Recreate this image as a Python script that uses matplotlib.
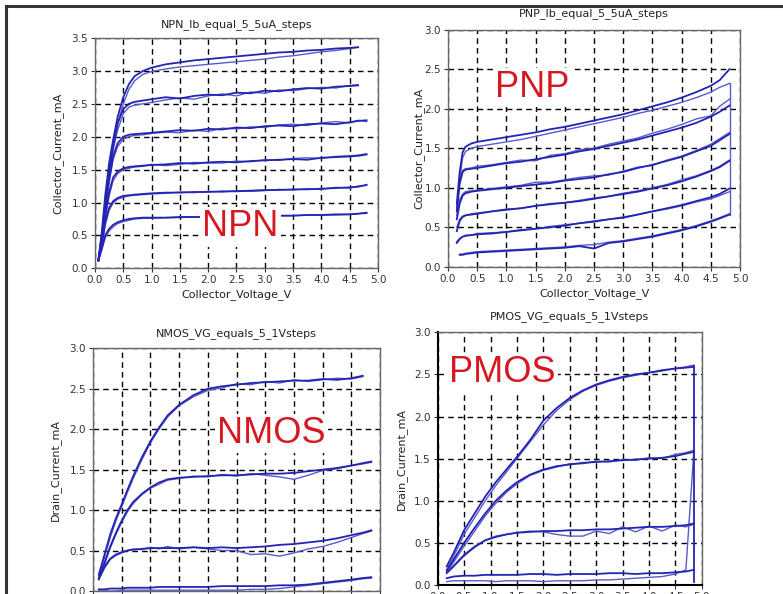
import numpy as np
import matplotlib.pyplot as plt
from matplotlib.patches import Rectangle
from matplotlib.lines import Line2D
from matplotlib import font_manager

nan = np.nan

# ---- NPN: Ib = 5..5uA steps ----
npn_v = [0.06, 0.12, 0.18, 0.25, 0.32, 0.4, 0.5, 0.6, 0.7, 0.85, 1.0, 1.25, 1.5, 1.75,
         2.0, 2.25, 2.5, 2.75, 3.0, 3.25, 3.5, 3.75, 4.0, 4.25, 4.5, 4.65, 4.8]
npn_fwd = [
    [0.12, 0.55, 1.1, 1.6, 1.95, 2.3, 2.6, 2.8, 2.92, 3.0, 3.05, 3.1, 3.13, 3.16,
     3.18, 3.2, 3.22, 3.24, 3.26, 3.28, 3.29, 3.31, 3.32, 3.34, 3.35, 3.36, nan],
    [0.12, 0.5, 0.95, 1.45, 1.85, 2.2, 2.42, 2.5, 2.53, 2.55, 2.57, 2.6, 2.58, 2.62,
     2.64, 2.63, 2.67, 2.66, 2.7, 2.69, 2.72, 2.74, 2.73, 2.76, 2.77, 2.78, nan],
    [0.12, 0.45, 0.9, 1.35, 1.7, 1.9, 2.0, 2.03, 2.04, 2.05, 2.06, 2.08, 2.1, 2.09,
     2.12, 2.11, 2.14, 2.13, 2.16, 2.17, 2.16, 2.19, 2.2, 2.19, 2.22, 2.24, 2.25],
    [0.12, 0.4, 0.8, 1.15, 1.38, 1.47, 1.52, 1.54, 1.55, 1.56, 1.57, 1.58, 1.6, 1.59,
     1.61, 1.62, 1.61, 1.63, 1.64, 1.65, 1.66, 1.65, 1.68, 1.69, 1.7, 1.71, 1.73],
    [0.12, 0.35, 0.7, 0.92, 1.02, 1.07, 1.1, 1.11, 1.12, 1.13, 1.14, 1.15, 1.15, 1.16,
     1.16, 1.17, 1.17, 1.18, 1.19, 1.19, 1.2, 1.2, 1.21, 1.22, 1.23, 1.24, 1.27],
    [0.12, 0.3, 0.5, 0.6, 0.66, 0.7, 0.73, 0.75, 0.76, 0.77, 0.77, 0.77, 0.78, 0.78,
     0.78, 0.78, 0.79, 0.79, 0.8, 0.8, 0.8, 0.81, 0.81, 0.82, 0.82, 0.83, 0.84],
]
npn_rev = [
    [0.12, 0.5, 1.0, 1.5, 1.9, 2.2, 2.5, 2.72, 2.85, 2.95, 2.99, 3.03, 3.06, 3.08,
     3.1, 3.12, 3.14, 3.16, 3.18, 3.21, 3.23, 3.26, 3.29, 3.31, 3.34, 3.36, nan],
    [0.12, 0.45, 0.9, 1.4, 1.8, 2.1, 2.35, 2.45, 2.48, 2.5, 2.52, 2.56, 2.59, 2.57,
     2.62, 2.65, 2.62, 2.68, 2.66, 2.71, 2.7, 2.73, 2.75, 2.74, 2.78, 2.79, nan],
    [0.12, 0.42, 0.85, 1.3, 1.65, 1.85, 1.96, 2.0, 2.02, 2.03, 2.05, 2.07, 2.06, 2.1,
     2.08, 2.13, 2.12, 2.15, 2.14, 2.18, 2.19, 2.17, 2.21, 2.23, 2.21, 2.25, 2.23],
    [0.12, 0.38, 0.75, 1.1, 1.33, 1.44, 1.5, 1.52, 1.54, 1.55, 1.58, 1.56, 1.58, 1.61,
     1.6, 1.6, 1.63, 1.62, 1.65, 1.64, 1.67, 1.68, 1.67, 1.7, 1.71, 1.72, 1.74],
    [0.12, 0.33, 0.65, 0.88, 0.99, 1.05, 1.08, 1.1, 1.11, 1.12, 1.13, 1.14, 1.16, 1.15,
     1.17, 1.16, 1.18, 1.17, 1.18, 1.2, 1.19, 1.21, 1.2, 1.23, 1.22, 1.25, 1.26],
    [0.12, 0.28, 0.46, 0.57, 0.63, 0.68, 0.71, 0.73, 0.75, 0.76, 0.76, 0.77, 0.77, 0.78,
     0.78, 0.78, 0.79, 0.79, 0.79, 0.8, 0.8, 0.81, 0.81, 0.81, 0.82, 0.83, 0.85],
]

# ---- PNP ----
pnp_v = [0.15, 0.2, 0.25, 0.3, 0.4, 0.5, 0.75, 1.0, 1.25, 1.5, 1.75, 2.0, 2.25, 2.5,
         2.75, 3.0, 3.25, 3.5, 3.75, 4.0, 4.25, 4.5, 4.65, 4.82]
pnp_fwd = [
    [nan, 0.15, 0.15, 0.16, 0.17, 0.18, 0.19, 0.2, 0.21, 0.22, 0.23, 0.24, 0.26, 0.23,
     0.3, 0.32, 0.35, 0.38, 0.42, 0.46, 0.51, 0.57, 0.61, 0.66],
    [0.3, 0.35, 0.38, 0.39, 0.4, 0.41, 0.42, 0.44, 0.46, 0.48, 0.5, 0.52, 0.55, 0.57,
     0.6, 0.62, 0.66, 0.7, 0.74, 0.78, 0.83, 0.88, 0.92, 0.99],
    [0.45, 0.58, 0.63, 0.65, 0.66, 0.67, 0.7, 0.72, 0.74, 0.77, 0.79, 0.81, 0.83, 0.86,
     0.89, 0.92, 0.95, 0.99, 1.03, 1.08, 1.14, 1.21, 1.26, 1.34],
    [0.6, 0.8, 0.9, 0.93, 0.95, 0.96, 0.98, 1.0, 1.02, 1.04, 1.06, 1.09, 1.11, 1.13,
     1.17, 1.2, 1.25, 1.29, 1.34, 1.39, 1.46, 1.53, 1.6, 1.68],
    [0.7, 1.05, 1.2, 1.23, 1.24, 1.25, 1.28, 1.31, 1.33, 1.36, 1.39, 1.42, 1.46, 1.49,
     1.53, 1.57, 1.61, 1.66, 1.71, 1.76, 1.82, 1.9, 1.96, 2.04],
    [0.8, 1.2, 1.45, 1.52, 1.56, 1.58, 1.61, 1.64, 1.67, 1.7, 1.74, 1.77, 1.81, 1.85,
     1.89, 1.93, 1.98, 2.03, 2.08, 2.14, 2.21, 2.29, 2.36, 2.5],
]
pnp_rev = [
    [nan, 0.16, 0.16, 0.17, 0.18, 0.19, 0.2, 0.21, 0.22, 0.23, 0.24, 0.25, 0.27, 0.28,
     0.31, 0.33, 0.36, 0.39, 0.43, 0.47, 0.52, 0.58, 0.62, 0.67],
    [0.32, 0.36, 0.38, 0.4, 0.4, 0.42, 0.43, 0.44, 0.47, 0.48, 0.51, 0.53, 0.55, 0.58,
     0.6, 0.63, 0.66, 0.7, 0.73, 0.77, 0.82, 0.86, 0.9, 0.95],
    [0.5, 0.6, 0.64, 0.65, 0.67, 0.68, 0.7, 0.73, 0.74, 0.77, 0.8, 0.81, 0.84, 0.87,
     0.89, 0.93, 0.96, 1.0, 1.04, 1.1, 1.15, 1.22, 1.27, 1.35],
    [0.65, 0.85, 0.92, 0.95, 0.96, 0.97, 0.99, 1.01, 1.03, 1.07, 1.07, 1.1, 1.13, 1.15,
     1.16, 1.21, 1.26, 1.28, 1.35, 1.4, 1.47, 1.55, 1.62, 1.7],
    [0.75, 1.1, 1.22, 1.24, 1.25, 1.27, 1.29, 1.32, 1.35, 1.34, 1.41, 1.43, 1.48, 1.5,
     1.55, 1.59, 1.63, 1.69, 1.74, 1.8, 1.87, 1.91, 2.03, 2.12],
    [0.7, 1.1, 1.38, 1.46, 1.5, 1.52, 1.55, 1.58, 1.61, 1.65, 1.69, 1.73, 1.77, 1.81,
     1.85, 1.89, 1.94, 1.98, 2.03, 2.08, 2.14, 2.21, 2.27, 2.32],
]
pnp_return_v = [4.82, 4.82]
pnp_return_i = [2.32, 0.66]

# ---- NMOS ----
nmos_v = [0.1, 0.2, 0.3, 0.4, 0.5, 0.6, 0.7, 0.85, 1.0, 1.15, 1.3, 1.5, 1.75, 2.0,
          2.25, 2.5, 2.75, 3.0, 3.25, 3.5, 3.75, 4.0, 4.25, 4.5, 4.7, 4.85]
nmos_fwd = [
    [0.2, 0.45, 0.7, 0.9, 1.07, 1.25, 1.42, 1.65, 1.85, 2.02, 2.17, 2.3, 2.42, 2.5,
     2.53, 2.55, 2.57, 2.58, 2.59, 2.6, 2.6, 2.62, 2.61, 2.63, 2.66, nan],
    [0.15, 0.35, 0.55, 0.72, 0.87, 1.0, 1.1, 1.2, 1.28, 1.34, 1.38, 1.4, 1.41, 1.42,
     1.43, 1.43, 1.44, 1.45, 1.45, 1.46, 1.48, 1.5, 1.52, 1.55, 1.58, 1.6],
    [0.15, 0.3, 0.4, 0.45, 0.48, 0.5, 0.51, 0.52, 0.53, 0.53, 0.53, 0.53, 0.54, 0.53,
     0.54, 0.53, 0.54, 0.55, 0.57, 0.58, 0.6, 0.62, 0.65, 0.69, 0.72, 0.75],
    [0.02, 0.02, 0.03, 0.03, 0.03, 0.04, 0.04, 0.04, 0.04, 0.05, 0.05, 0.05, 0.05, 0.05,
     0.06, 0.06, 0.06, 0.06, 0.07, 0.07, 0.08, 0.1, 0.12, 0.14, 0.16, 0.17],
]
nmos_rev = [
    [0.17, 0.42, 0.66, 0.87, 1.04, 1.22, 1.39, 1.62, 1.83, 2.0, 2.15, 2.29, 2.4, 2.48,
     2.51, 2.56, 2.55, 2.59, 2.57, 2.61, 2.59, 2.61, 2.63, 2.62, 2.65, nan],
    [0.14, 0.33, 0.53, 0.7, 0.85, 0.98, 1.08, 1.19, 1.27, 1.32, 1.37, 1.39, 1.42, 1.41,
     1.44, 1.42, 1.45, 1.43, 1.41, 1.38, 1.43, 1.49, 1.51, 1.55, 1.57, 1.59],
    [0.14, 0.28, 0.39, 0.44, 0.47, 0.5, 0.52, 0.51, 0.54, 0.52, 0.55, 0.52, 0.54, 0.52,
     0.5, 0.5, 0.45, 0.46, 0.43, 0.47, 0.52, 0.55, 0.6, 0.66, 0.71, 0.74],
    [0.0, 0.0, 0.0, 0.0, 0.01, 0.01, 0.01, 0.01, 0.01, 0.01, 0.01, 0.01, 0.01, 0.01,
     0.01, 0.01, 0.02, 0.02, 0.03, 0.05, 0.07, 0.09, 0.11, 0.13, 0.15, 0.16],
]

# ---- PMOS ----
pmos_v = [0.17, 0.3, 0.5, 0.7, 0.9, 1.1, 1.3, 1.5, 1.75, 2.0, 2.25, 2.5, 2.75, 3.0,
          3.25, 3.5, 3.75, 4.0, 4.25, 4.5, 4.7, 4.85]
pmos_fwd = [
    [0.22, 0.38, 0.65, 0.85, 1.05, 1.22, 1.37, 1.52, 1.72, 1.95, 2.1, 2.22, 2.31, 2.38,
     2.43, 2.47, 2.5, 2.52, 2.55, 2.57, 2.58, 2.59],
    [0.17, 0.3, 0.5, 0.68, 0.85, 1.0, 1.12, 1.22, 1.31, 1.37, 1.41, 1.43, 1.45, 1.46,
     1.47, 1.48, 1.49, 1.5, 1.51, 1.53, 1.56, 1.58],
    [0.14, 0.22, 0.35, 0.45, 0.53, 0.57, 0.6, 0.62, 0.63, 0.64, 0.64, 0.65, 0.65, 0.66,
     0.66, 0.67, 0.68, 0.69, 0.69, 0.7, 0.71, 0.73],
    [0.08, 0.1, 0.11, 0.11, 0.12, 0.12, 0.12, 0.12, 0.13, 0.13, 0.12, 0.13, 0.13, 0.13,
     0.14, 0.14, 0.13, 0.14, 0.14, 0.15, 0.16, 0.18],
]
pmos_rev = [
    [0.18, 0.34, 0.6, 0.8, 1.0, 1.18, 1.34, 1.5, 1.7, 1.9, 2.07, 2.2, 2.3, 2.37,
     2.42, 2.46, 2.49, 2.52, 2.54, 2.57, 2.59, 2.61],
    [0.15, 0.27, 0.46, 0.64, 0.82, 0.97, 1.1, 1.2, 1.3, 1.36, 1.4, 1.44, 1.44, 1.47,
     1.46, 1.49, 1.48, 1.51, 1.5, 1.55, 1.57, 1.6],
    [0.15, 0.23, 0.36, 0.46, 0.53, 0.58, 0.6, 0.62, 0.64, 0.63, 0.6, 0.58, 0.58, 0.64,
     0.61, 0.69, 0.63, 0.7, 0.64, 0.71, 0.69, 0.72],
    [0.04, 0.05, 0.05, 0.05, 0.05, 0.04, 0.05, 0.05, 0.05, 0.04, 0.05, 0.05, 0.05, 0.06,
     0.06, 0.07, 0.08, 0.09, 0.1, 0.13, 0.18, 1.58],
]
pmos_return_v = [4.85, 4.85]
pmos_return_i = [2.6, 0.03]

FWD_COLOR = '#2424b2'
REV_COLOR = '#5a5acb'
RED = '#d61820'

# narrow face for the big red labels if the system has it
installed = {f.name for f in font_manager.fontManager.ttflist}
LABEL_FONT = 'Liberation Sans Narrow' if 'Liberation Sans Narrow' in installed else 'Liberation Sans'
LABEL_SIZE = 29 if LABEL_FONT == 'Liberation Sans Narrow' else 26

plt.rcParams['font.family'] = 'DejaVu Sans'
fig = plt.figure(figsize=(7.83, 5.94), dpi=100)


def setup_axes(ax, title, xlabel, ylabel, ymax, title_pad, ylabel_pad=3):
    ax.set_xlim(0, 5)
    ax.set_ylim(0, ymax)
    ax.set_xticks(np.arange(0, 5.01, 0.5))
    ax.set_yticks(np.arange(0, ymax + 0.01, 0.5))
    ax.grid(True, color='black', linestyle=(0, (4, 3)), linewidth=1.0, zorder=1)
    ax.set_axisbelow(True)
    ax.tick_params(direction='out', length=3, width=0.8, labelsize=7.5,
                   colors='#333333', pad=2)
    for s in ax.spines.values():
        s.set_color('#666666')
        s.set_linewidth(1.0)
    ax.set_title(title, fontsize=8, color='#222222', pad=title_pad)
    if xlabel:
        ax.set_xlabel(xlabel, fontsize=8, color='#222222', labelpad=3)
    ax.set_ylabel(ylabel, fontsize=8, color='#222222', labelpad=ylabel_pad)


def draw_curves(ax, v, fwd, rev):
    for f, r in zip(fwd, rev):
        ax.plot(v, r, color=REV_COLOR, linewidth=1.0, zorder=3)
        ax.plot(v, f, color=FWD_COLOR, linewidth=1.3, zorder=4)


def big_label(ax, x, y, text):
    ax.text(x, y, text, color=RED, fontsize=LABEL_SIZE, family=LABEL_FONT,
            ha='center', va='center', zorder=6,
            bbox=dict(facecolor='white', edgecolor='none', pad=1.5))


# NPN
ax1 = fig.add_axes([0.1213, 0.5483, 0.3614, 0.3877])
draw_curves(ax1, npn_v, npn_fwd, npn_rev)
setup_axes(ax1, 'NPN_Ib_equal_5_5uA_steps', 'Collector_Voltage_V',
           'Collector_Current_mA', 3.5, title_pad=8, ylabel_pad=6)
big_label(ax1, 2.57, 0.63, 'NPN')

# PNP
ax2 = fig.add_axes([0.5722, 0.551, 0.3729, 0.399])
draw_curves(ax2, pnp_v, pnp_fwd, pnp_rev)
ax2.plot(pnp_return_v, pnp_return_i, color=REV_COLOR, linewidth=1.0, zorder=3)
setup_axes(ax2, 'PNP_Ib_equal_5_5uA_steps', 'Collector_Voltage_V',
           'Collector_Current_mA', 3.0, title_pad=10, ylabel_pad=0)
big_label(ax2, 1.44, 2.27, 'PNP')

# NMOS
ax3 = fig.add_axes([0.1188, 0.0051, 0.3665, 0.4086])
draw_curves(ax3, nmos_v, nmos_fwd, nmos_rev)
setup_axes(ax3, 'NMOS_VG_equals_5_1Vsteps', None, 'Drain_Current_mA', 3.0,
           title_pad=9, ylabel_pad=6)
big_label(ax3, 3.11, 1.95, 'NMOS')

# PMOS
ax4 = fig.add_axes([0.559, 0.0152, 0.3372, 0.4254])
draw_curves(ax4, pmos_v, pmos_fwd, pmos_rev)
ax4.plot(pmos_return_v, pmos_return_i, color=FWD_COLOR, linewidth=1.3, zorder=4)
setup_axes(ax4, 'PMOS_VG_equals_5_1Vsteps', None, 'Drain_Current_mA', 3.0,
           title_pad=9.5, ylabel_pad=5)
ax4.spines['left'].set_color('black')
ax4.spines['bottom'].set_color('black')
ax4.spines['left'].set_linewidth(1.5)
ax4.spines['bottom'].set_linewidth(1.5)
big_label(ax4, 1.22, 2.52, 'PMOS')

# slide frame (top and left edges of the screenshot)
fig.add_artist(Rectangle((0, 1 - 5 / 594), 1, 5 / 594, transform=fig.transFigure,
                         facecolor='white', edgecolor='none', zorder=10))
fig.add_artist(Rectangle((0, 0), 5 / 783, 1, transform=fig.transFigure,
                         facecolor='white', edgecolor='none', zorder=10))
fig.add_artist(Line2D([6 / 783, 1], [1 - 6 / 594, 1 - 6 / 594], transform=fig.transFigure,
                      color='#333333', linewidth=2.2, zorder=11))
fig.add_artist(Line2D([6 / 783, 6 / 783], [0, 1 - 6 / 594], transform=fig.transFigure,
                      color='#333333', linewidth=2.2, zorder=11))

fig.savefig('out.png', dpi=100, facecolor='white')
